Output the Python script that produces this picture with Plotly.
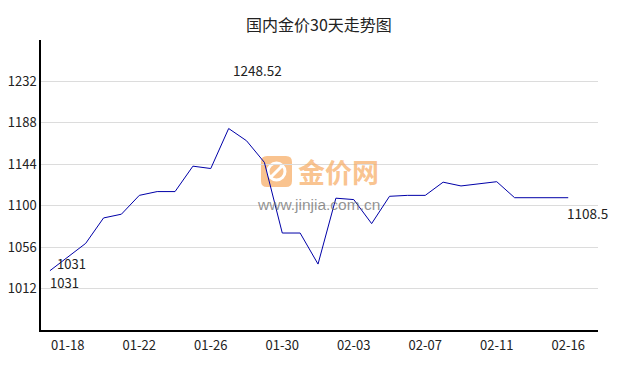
import plotly.graph_objects as go

# ---- data ----
dates = ["01-17", "01-18", "01-19", "01-20", "01-21", "01-22", "01-23", "01-24",
         "01-25", "01-26", "01-27", "01-28", "01-29", "01-30", "01-31", "02-01",
         "02-02", "02-03", "02-04", "02-05", "02-06", "02-07", "02-08", "02-09",
         "02-10", "02-11", "02-13", "02-14", "02-15", "02-16"]
prices = [1031, 1046, 1060, 1087, 1091, 1111, 1115, 1115, 1142, 1139.5,
          1182, 1169, 1146, 1071, 1071, 1038, 1108, 1106.5, 1081, 1110,
          1111, 1111, 1125, 1121, 1123.5, 1125.5, 1108.5, 1108.5, 1108.5, 1108.5]
x_tick_labels = ["01-18", "01-22", "01-26", "01-30", "02-03", "02-07", "02-11", "02-16"]
y_ticks = [1012, 1056, 1100, 1144, 1188, 1232]
title_text = "国内金价30天走势图"
max_label = "1248.52"
min_label = "1031"
first_label = "1031"
last_label = "1108.5"

W, H = 638, 370
ML, MR, MT, MB = 41, 40, 40, 40
FONT = "Noto Sans CJK SC"


def px(xp, yp):
    """pixel -> paper coords"""
    return (xp - ML) / (W - ML - MR), (H - MB - yp) / (H - MT - MB)


def pt(a, b):
    xx, yy = px(a, b)
    return f"{xx:.5f},{yy:.5f}"


fig = go.Figure()
fig.add_trace(go.Scatter(
    x=dates, y=prices, mode="lines",
    line=dict(color="#0000a8", width=1),
    hoverinfo="x+y", showlegend=False,
))

lab_font = dict(family=FONT, size=13.5, color="#222")
small_font = dict(family=FONT, size=13, color="#222")
annotations = [
    dict(x=11.6, y=1244, xref="x", yref="y", text=max_label, showarrow=False, font=lab_font),
    dict(x=1.21, y=1038.5, xref="x", yref="y", text=first_label, showarrow=False,
         font=small_font, height=15),
    dict(x=0.84, y=1018, xref="x", yref="y", text=min_label, showarrow=False,
         font=small_font, height=15),
    dict(x=30.1, y=1092, xref="x", yref="y", text=last_label, showarrow=False, font=lab_font),
]

# watermark text
wx, wy = px(338, 171)
annotations.append(dict(x=wx, y=wy, xref="paper", yref="paper", text="<b>金价网</b>",
                        showarrow=False, xanchor="center", yanchor="middle",
                        font=dict(family=FONT, size=27, color="rgba(247,170,95,0.7)")))
wx, wy = px(318, 204)
annotations.append(dict(x=wx, y=wy, xref="paper", yref="paper", text="www.jinjia.com.cn",
                        showarrow=False, xanchor="center", yanchor="middle",
                        font=dict(family="Liberation Sans", size=15.5, color="rgba(110,110,110,0.75)")))

# watermark icon (rounded square with white mark)
shapes = []
x0, y0, x1, y1 = 261, 156, 292, 187
r = 6
path = (f"M{pt(x0+r,y0)} L{pt(x1-r,y0)} Q{pt(x1,y0)} {pt(x1,y0+r)} L{pt(x1,y1-r)} "
        f"Q{pt(x1,y1)} {pt(x1-r,y1)} L{pt(x0+r,y1)} Q{pt(x0,y1)} {pt(x0,y1-r)} "
        f"L{pt(x0,y0+r)} Q{pt(x0,y0)} {pt(x0+r,y0)} Z")
shapes.append(dict(type="path", path=path, xref="paper", yref="paper",
                   fillcolor="rgba(247,170,95,0.7)", line=dict(width=0), layer="below"))
cx0, cy0 = px(268, 163)
cx1, cy1 = px(285, 180)
shapes.append(dict(type="circle", xref="paper", yref="paper", x0=cx0, y0=cy1, x1=cx1, y1=cy0,
                   line=dict(color="white", width=3), layer="below"))
lx0, ly0 = px(270, 178)
lx1, ly1 = px(283, 165)
shapes.append(dict(type="line", xref="paper", yref="paper", x0=lx0, y0=ly0, x1=lx1, y1=ly1,
                   line=dict(color="white", width=3), layer="below"))

tick_font = dict(family=FONT, size=13, color="#222")
fig.update_layout(
    width=W, height=H,
    margin=dict(l=ML, r=MR, t=MT, b=MB, autoexpand=False),
    paper_bgcolor="white", plot_bgcolor="white",
    title=dict(text=title_text, x=0.5, xanchor="center", y=1 - 25 / H, yanchor="middle",
               yref="container", font=dict(family=FONT, size=16, color="#222")),
    xaxis=dict(
        type="category", range=[-0.5, 30.666],
        tickvals=x_tick_labels, ticktext=x_tick_labels,
        showgrid=False, showline=True, linecolor="#000", linewidth=1.5,
        ticks="", tickfont=tick_font, ticklabelstandoff=3,
        zeroline=False, fixedrange=True, automargin=False,
    ),
    yaxis=dict(
        range=[968, 1276], tickvals=y_ticks,
        showgrid=True, gridcolor="#dcdcdc", gridwidth=1,
        showline=True, linecolor="#000", linewidth=1.5,
        ticks="", tickfont=tick_font,
        zeroline=False, fixedrange=True, automargin=False,
    ),
    annotations=annotations,
    shapes=shapes,
)

fig.write_html("out.html")
